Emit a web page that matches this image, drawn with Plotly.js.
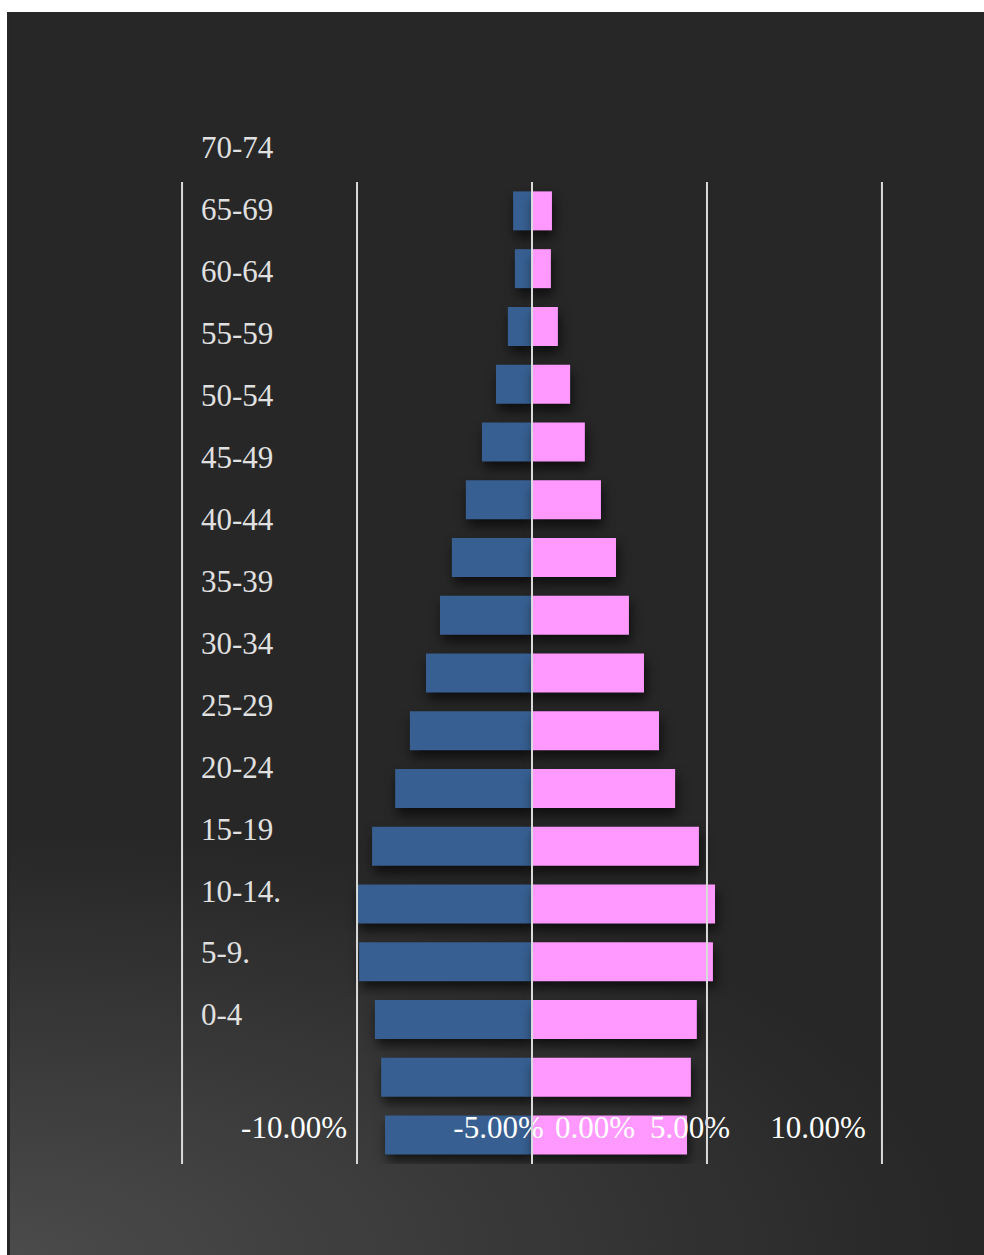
<!DOCTYPE html>
<html>
<head>
<meta charset="utf-8">
<script src="https://cdn.plot.ly/plotly-3.0.1.min.js"></script>
<style>
  html, body { margin: 0; padding: 0; background: #ffffff; width: 984px; height: 1255px; overflow: hidden; }
  #chart {
    position: absolute; left: 7px; top: 12px; width: 977px; height: 1243px;
    background: radial-gradient(ellipse 950px 420px at 0% 100%, #4b4b4b 0%, #272727 100%);
    box-shadow: inset 3px 0 0 #262626;
  }
  #chart .barlayer .trace { filter: drop-shadow(2px 7px 6px rgba(0,0,0,0.65)); }
</style>
</head>
<body>
<div id="chart"></div>
<script>
// Bars, listed from top row to bottom row (percent of population)
const rowIndex = [0,1,2,3,4,5,6,7,8,9,10,11,12,13,14,15,16];
const maleValues   = [0.54, 0.49, 0.69, 1.03, 1.43, 1.89, 2.29, 2.63, 3.03, 3.49, 3.91, 4.57, 5.00, 4.94, 4.49, 4.31, 4.20];
const femaleValues = [0.57, 0.54, 0.74, 1.09, 1.51, 1.97, 2.40, 2.77, 3.20, 3.63, 4.09, 4.77, 5.23, 5.17, 4.71, 4.54, 4.43];

// Age labels, top to bottom (their own, unevenly matched, axis)
const ageLabels = ['70-74','65-69','60-64','55-59','50-54','45-49','40-44','35-39','30-34','25-29','20-24','15-19','10-14.','5-9.','0-4'];
const ageLabelIndex = [0,1,2,3,4,5,6,7,8,9,10,11,12,13,14];

// Gridline values and the (displaced) percentage tick labels
const gridValues = [-10, -5, 0, 5, 10];
const pctTickLabels = ['-10.00%', '-5.00%', '0.00%', '5.00%', '10.00%'];
const pctTickPositions = [-6.8, -0.957, 1.8, 4.514, 8.171];

const serif = 'Liberation Serif, Times New Roman, serif';
const gridColor = '#dadada';

const traces = [
  {
    type: 'bar', orientation: 'h', name: 'Male',
    x: maleValues.map(v => -v), y: rowIndex,
    marker: { color: '#375f91', line: { width: 0 } },
    hoverinfo: 'skip', showlegend: false
  },
  {
    type: 'bar', orientation: 'h', name: 'Female',
    x: femaleValues, y: rowIndex,
    marker: { color: '#ff99ff', line: { width: 0 } },
    hoverinfo: 'skip', showlegend: false
  },
  // invisible helpers so the label axes get drawn
  {
    type: 'scatter', mode: 'markers', xaxis: 'x2', yaxis: 'y',
    x: pctTickPositions, y: pctTickPositions.map(() => 16),
    marker: { opacity: 0, size: 1 }, hoverinfo: 'skip', showlegend: false
  },
  {
    type: 'scatter', mode: 'markers', xaxis: 'x', yaxis: 'y2',
    x: ageLabelIndex.map(() => 0), y: ageLabelIndex,
    marker: { opacity: 0, size: 1 }, hoverinfo: 'skip', showlegend: false
  }
];

const shapes = gridValues.map(v => ({
  type: 'line', xref: 'x', yref: 'paper',
  x0: v, x1: v, y0: 0, y1: (1164 - 182) / 1044,
  line: { color: gridColor, width: 2 },
  layer: 'above'
}));

const layout = {
  width: 977, height: 1243,
  margin: { l: 174, r: 101, t: 108, b: 91, pad: 0 },
  paper_bgcolor: 'rgba(0,0,0,0)',
  plot_bgcolor: 'rgba(0,0,0,0)',
  barmode: 'relative',
  bargap: 0.325,
  showlegend: false,
  font: { family: serif, size: 31, color: '#ffffff' },
  xaxis: {
    range: [-10.03, 10.03],
    showticklabels: false, ticks: '',
    showgrid: false, zeroline: false, showline: false,
    fixedrange: true
  },
  xaxis2: {
    overlaying: 'x',
    anchor: 'free', position: 0.0556, side: 'bottom',
    range: [-10.03, 10.03],
    tickmode: 'array',
    tickvals: pctTickPositions, ticktext: pctTickLabels,
    ticks: '', showgrid: false, zeroline: false, showline: false,
    tickfont: { family: serif, size: 31, color: '#ffffff' },
    fixedrange: true
  },
  yaxis: {
    range: [16.5, -1.5734],
    showticklabels: false, ticks: '',
    showgrid: false, zeroline: false, showline: false,
    fixedrange: true
  },
  yaxis2: {
    overlaying: 'y',
    anchor: 'free', position: 0.0271, side: 'right',
    range: [16.414, -0.444],
    tickmode: 'array',
    tickvals: ageLabelIndex, ticktext: ageLabels,
    ticks: '', showgrid: false, zeroline: false, showline: false,
    tickfont: { family: serif, size: 31, color: '#e0e0e0' },
    fixedrange: true
  },
  shapes: shapes
};

Plotly.newPlot('chart', traces, layout, { staticPlot: true, displayModeBar: false });
</script>
</body>
</html>
